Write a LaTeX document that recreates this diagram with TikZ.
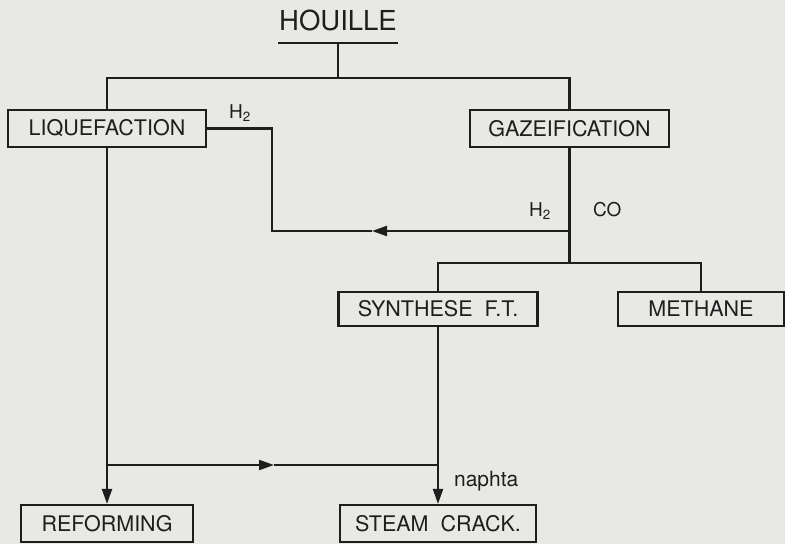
\documentclass[tikz,border=0pt]{standalone}
\usepackage{fontspec}
\setmainfont{TeX Gyre Heros}
\usetikzlibrary{arrows.meta}
\definecolor{paper}{RGB}{232,232,229}
\definecolor{ink}{RGB}{30,30,30}
\begin{document}
\begin{tikzpicture}[x=1pt,y=-1pt,line width=2.2pt,
  box/.style={draw=ink,line width=2.2pt,text=ink,inner sep=0pt,
    font=\fontsize{21.5}{24}\selectfont},
  lbl/.style={text=ink,inner sep=0pt,font=\fontsize{19}{22}\selectfont},
  arr/.style={-{Triangle[length=15pt,width=10pt]}},
  link/.style={draw=ink,line width=2.2pt}]
\useasboundingbox (0,0) rectangle (785,544);
\fill[paper] (0,0) rectangle (785,544);

\node[text=ink,inner sep=0pt,anchor=base,font=\fontsize{27.5}{30}\selectfont] (hou) at (338,30) {HOUILLE};

\node[box,minimum width=198pt,minimum height=37pt] (liq) at (107,128.5) {LIQUEFACTION};
\node[box,minimum width=199pt,minimum height=37pt] (gaz) at (569.5,128.5) {GAZEIFICATION};
\node[box,minimum width=199pt,minimum height=34pt] (syn) at (438,309) {SYNTHESE\ \ F.T.};
\node[box,minimum width=166pt,minimum height=34pt] (met) at (701,309) {METHANE};
\node[box,minimum width=172pt,minimum height=37pt] (ref) at (107,523.5) {REFORMING};
\node[box,minimum width=196pt,minimum height=37pt] (stc) at (438,523.5) {STEAM\ \ CRACK.};

\node[lbl,anchor=base west] (h2a) at (228,118) {H\textsubscript{2}};
\node[lbl,anchor=base west] (h2b) at (528,216) {H\textsubscript{2}};
\node[lbl,anchor=base west] (co) at (592,216) {CO};
\node[lbl,anchor=base west,font=\fontsize{21}{24}\selectfont] (nap) at (453,486) {naphta};

\coordinate (ul) at ([yshift=-13pt]hou.base);
\coordinate (bar) at (338,78);
\coordinate (h2y) at (0,231);
\coordinate (h2x) at (272,0);
\coordinate (h2tip) at (372,231);
\coordinate (bar2) at (0,263);
\coordinate (y465) at (0,465);
\coordinate (ntip) at (274,465);

\draw[link] ([yshift=-13pt]hou.base west) -- ([yshift=-13pt]hou.base east);
\draw[link] (ul) -- (ul |- bar);
\draw[link] (liq.north) -- (liq.north |- bar) -| (gaz.north);

\draw[link,arr] (gaz.south |- h2y) -- (h2tip);
\draw[link] (h2tip) -- (h2x |- h2y) |- (liq.east);

\draw[link] (gaz.south) -- (gaz.south |- bar2);
\draw[link] (syn.north) -- (syn.north |- bar2) -- (met.north |- bar2) -- (met.north);

\draw[link,arr] (liq.south) -- (ref.north);
\draw[link,arr] (syn.south) -- (stc.north);
\draw[link,arr] (liq.south |- y465) -- (ntip);
\draw[link] (ntip) -- (syn.south |- y465);
\end{tikzpicture}
\end{document}
